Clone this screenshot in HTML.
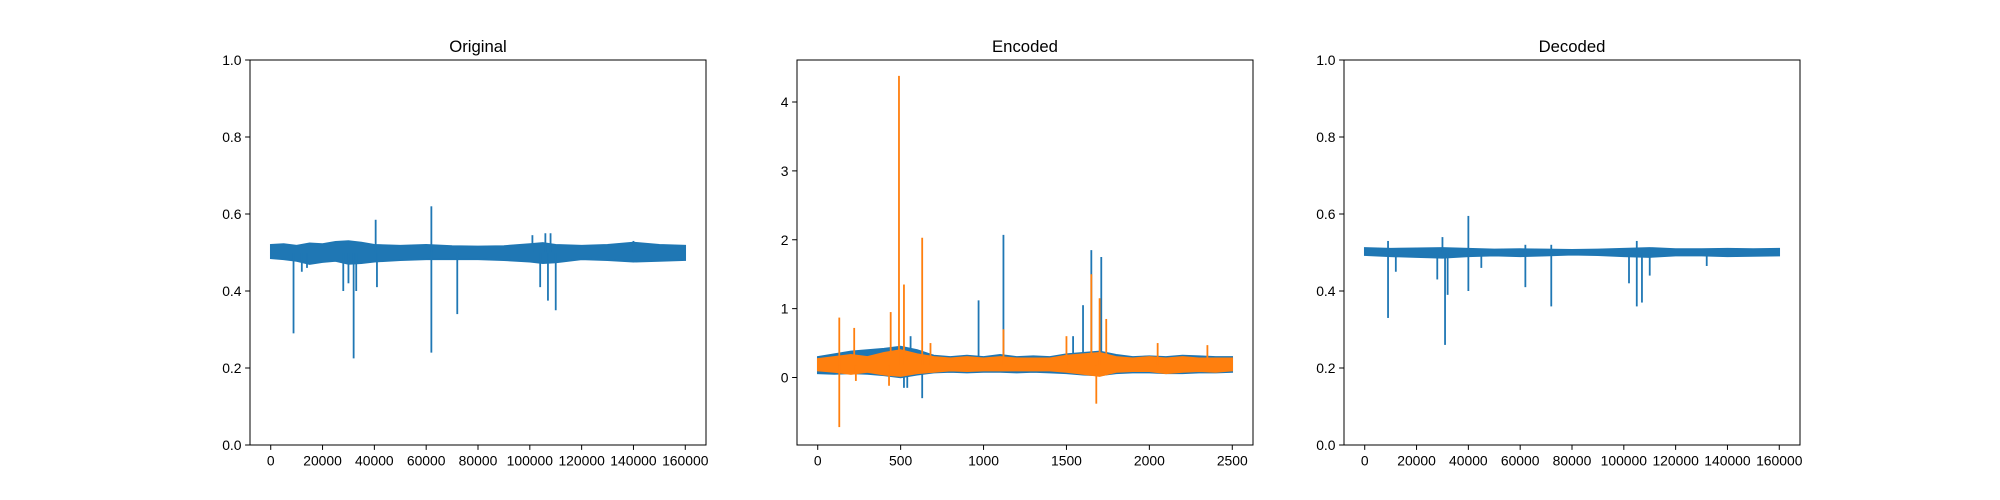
<!DOCTYPE html>
<html><head><meta charset="utf-8"><style>
html,body{margin:0;padding:0;background:#fff;}
svg{display:block;font-family:"Liberation Sans","DejaVu Sans",sans-serif;}
</style></head><body>
<svg id="fig" width="2000" height="500" xmlns="http://www.w3.org/2000/svg"></svg>
<script>
// ---------- data ----------
const origBandX = [0, 5000, 10000, 15000, 20000, 25000, 30000, 35000, 40000, 50000, 60000, 70000, 80000, 90000, 100000, 105000, 110000, 120000, 130000, 140000, 150000, 160000];
const origBandHi = [0.52, 0.522, 0.518, 0.524, 0.522, 0.528, 0.53, 0.526, 0.52, 0.518, 0.52, 0.517, 0.516, 0.517, 0.522, 0.525, 0.52, 0.518, 0.52, 0.526, 0.52, 0.518];
const origBandLo = [0.485, 0.482, 0.478, 0.47, 0.475, 0.478, 0.47, 0.472, 0.476, 0.48, 0.482, 0.482, 0.482, 0.48, 0.476, 0.472, 0.474, 0.482, 0.48, 0.476, 0.478, 0.48];
const origSpikeX = [8800, 12000, 14000, 28000, 30000, 32000, 33000, 40500, 41000, 62000, 62000, 72000, 101000, 104000, 106000, 107000, 108000, 110000, 140000];
const origSpikeY = [0.29, 0.45, 0.46, 0.40, 0.42, 0.225, 0.40, 0.585, 0.41, 0.62, 0.24, 0.34, 0.545, 0.41, 0.55, 0.375, 0.55, 0.35, 0.53];

const encBandX = [0, 100, 200, 300, 400, 500, 600, 700, 800, 900, 1000, 1100, 1200, 1300, 1400, 1500, 1600, 1700, 1800, 1900, 2000, 2100, 2200, 2300, 2400, 2500];
const encBlueHi = [0.3, 0.34, 0.38, 0.4, 0.42, 0.45, 0.4, 0.32, 0.3, 0.32, 0.3, 0.33, 0.3, 0.31, 0.3, 0.34, 0.36, 0.38, 0.33, 0.3, 0.31, 0.3, 0.32, 0.31, 0.3, 0.3];
const encBlueLo = [0.06, 0.05, 0.06, 0.05, 0.03, 0.0, 0.04, 0.07, 0.08, 0.07, 0.08, 0.08, 0.07, 0.08, 0.07, 0.06, 0.04, 0.03, 0.06, 0.07, 0.07, 0.06, 0.06, 0.07, 0.07, 0.08];
const encOrangeHi = [0.27, 0.3, 0.33, 0.3, 0.36, 0.4, 0.34, 0.3, 0.28, 0.3, 0.28, 0.3, 0.28, 0.28, 0.28, 0.32, 0.34, 0.36, 0.3, 0.28, 0.3, 0.28, 0.3, 0.28, 0.28, 0.28];
const encOrangeLo = [0.1, 0.08, 0.05, 0.08, 0.04, 0.02, 0.06, 0.08, 0.1, 0.09, 0.1, 0.1, 0.1, 0.1, 0.1, 0.08, 0.05, 0.02, 0.08, 0.09, 0.09, 0.06, 0.08, 0.09, 0.08, 0.1];
const encBlueSpikeX = [520, 560, 630, 970, 1120, 1600, 1650, 1710, 540, 1540];
const encBlueSpikeY = [-0.15, 0.6, -0.3, 1.12, 2.07, 1.05, 1.85, 1.75, -0.15, 0.6];
const encOrangeSpikeX = [130, 130, 220, 430, 440, 490, 520, 630, 1120, 1500, 1650, 1680, 1700, 1740, 2050, 2350, 230, 680];
const encOrangeSpikeY = [0.87, -0.72, 0.72, -0.12, 0.95, 4.38, 1.35, 2.03, 0.7, 0.6, 1.5, -0.38, 1.15, 0.85, 0.5, 0.47, -0.05, 0.5];

const decBandX = [0, 10000, 20000, 30000, 40000, 50000, 60000, 70000, 80000, 90000, 100000, 110000, 120000, 130000, 140000, 150000, 160000];
const decBandHi = [0.512, 0.51, 0.511, 0.512, 0.51, 0.508, 0.509, 0.508, 0.507, 0.508, 0.51, 0.512, 0.509, 0.509, 0.51, 0.509, 0.51];
const decBandLo = [0.493, 0.49, 0.488, 0.486, 0.49, 0.492, 0.49, 0.492, 0.494, 0.493, 0.49, 0.488, 0.492, 0.492, 0.49, 0.491, 0.492];
const decSpikeX = [9000, 9000, 12000, 28000, 30000, 31000, 32000, 40000, 40000, 45000, 62000, 62000, 72000, 72000, 102000, 105000, 105000, 107000, 110000, 132000];
const decSpikeY = [0.53, 0.33, 0.45, 0.43, 0.54, 0.26, 0.39, 0.595, 0.40, 0.46, 0.52, 0.41, 0.52, 0.36, 0.42, 0.53, 0.36, 0.37, 0.44, 0.465];

const bigTicks = [0, 20000, 40000, 60000, 80000, 100000, 120000, 140000, 160000];
const unitTicks = [0, 0.2, 0.4, 0.6, 0.8, 1.0];
const encXTicks = [0, 500, 1000, 1500, 2000, 2500];
const encYTicks = [0, 1, 2, 3, 4];

// ---------- drawing ----------
const NS = "http://www.w3.org/2000/svg";
const fig = document.getElementById('fig');
const BLUE = "#1f77b4", ORANGE = "#ff7f0e";
function mk(tag, attrs, parent) {
  const e = document.createElementNS(NS, tag);
  for (const k in attrs) e.setAttribute(k, attrs[k]);
  (parent || fig).appendChild(e);
  return e;
}
function makeAxes(name, x0, x1, xmin, xmax, ymin, ymax, title, xt, yt, ylabFmt) {
  const top = 60, bot = 445;
  const g = mk('g', {});
  
  
  const sx = v => x0 + (v - xmin) / (xmax - xmin) * (x1 - x0);
  const sy = v => bot - (v - ymin) / (ymax - ymin) * (bot - top);
  const marks = mk('g', {}, g);
  
  
  const frame = mk('rect', {x: x0, y: top, width: x1 - x0, height: bot - top, fill: 'none', stroke: '#000', 'stroke-width': 1});
  g.appendChild(frame);
  
  
  xt.forEach(v => {
    const X = sx(v);
    mk('line', {x1: X, x2: X, y1: bot, y2: bot + 4.9, stroke: '#000', 'stroke-width': 1}, g);
    const t = mk('text', {x: X, y: bot + 20.5, 'font-size': 13.9, 'text-anchor': 'middle'}, g);
    t.textContent = String(v);
    
    
  });
  yt.forEach(v => {
    const Y = sy(v);
    mk('line', {x1: x0 - 4.9, x2: x0, y1: Y, y2: Y, stroke: '#000', 'stroke-width': 1}, g);
    const t = mk('text', {x: x0 - 8.5, y: Y + 5, 'font-size': 13.9, 'text-anchor': 'end'}, g);
    t.textContent = ylabFmt(v);
    
    
  });
  const tt = mk('text', {x: (x0 + x1) / 2, y: 52, 'font-size': 16.7, 'text-anchor': 'middle'}, g);
  tt.textContent = title;
  
  
  return {g: marks, sx, sy};
}
function band(ax, xs, hi, lo, color, name) {
  let pts = xs.map((x, i) => ax.sx(x) + ',' + ax.sy(hi[i]));
  pts = pts.concat(xs.slice().reverse().map((x, j) => { const i = xs.length - 1 - j; return ax.sx(x) + ',' + ax.sy(lo[i]); }));
  const p = mk('polygon', {points: pts.join(' '), fill: color, stroke: color, 'stroke-width': 1.5, 'stroke-linejoin': 'miter'}, ax.g);
  
  
}
function spikes(ax, xs, ys, base, color, name) {
  xs.forEach((x, i) => {
    const X = ax.sx(x);
    const l = mk('line', {x1: X, x2: X, y1: ax.sy(base), y2: ax.sy(ys[i]), stroke: color, 'stroke-width': 1.8}, ax.g);
    
    
  });
}
const f1 = v => v.toFixed(1);
const fi = v => String(v);

const a1 = makeAxes('original-axes', 250, 706, -8000, 168000, 0, 1, 'Original', bigTicks, unitTicks, f1);
band(a1, origBandX, origBandHi, origBandLo, BLUE, 'original-band');
spikes(a1, origSpikeX, origSpikeY, 0.5, BLUE, 'original-spike');

const a2 = makeAxes('encoded-axes', 797, 1253, -125, 2625, -0.98, 4.61, 'Encoded', encXTicks, encYTicks, fi);
band(a2, encBandX, encBlueHi, encBlueLo, BLUE, 'encoded-blue-band');
spikes(a2, encBlueSpikeX, encBlueSpikeY, 0.18, BLUE, 'encoded-blue-spike');
band(a2, encBandX, encOrangeHi, encOrangeLo, ORANGE, 'encoded-orange-band');
spikes(a2, encOrangeSpikeX, encOrangeSpikeY, 0.18, ORANGE, 'encoded-orange-spike');

const a3 = makeAxes('decoded-axes', 1344, 1800, -8000, 168000, 0, 1, 'Decoded', bigTicks, unitTicks, f1);
band(a3, decBandX, decBandHi, decBandLo, BLUE, 'decoded-band');
spikes(a3, decSpikeX, decSpikeY, 0.5, BLUE, 'decoded-spike');
</script>
</body></html>
